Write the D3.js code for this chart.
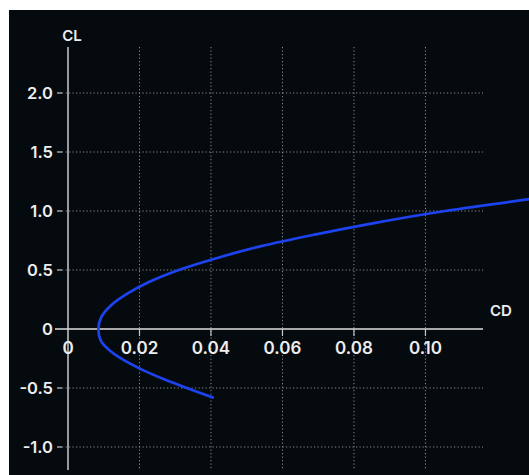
<!DOCTYPE html>
<html>
<head>
<meta charset="utf-8">
<script src="https://cdn.jsdelivr.net/npm/d3@7"></script>
<style>
  html, body { margin: 0; padding: 0; background: #ffffff; }
  svg { display: block; }
  text { font-family: Inter, "Liberation Sans", Arial, sans-serif; }
</style>
</head>
<body>
<svg id="chart" width="529" height="475"></svg>
<script>
// Drag polar: lift coefficient vs drag coefficient
const cl = [-0.58, -0.50, -0.42, -0.34, -0.26, -0.18, -0.10, 0.0, 0.10, 0.20, 0.30, 0.40, 0.50, 0.60, 0.70, 0.80, 0.90, 1.00, 1.10];
const cd = [0.0405, 0.0332, 0.0264, 0.0204, 0.0154, 0.0116, 0.0092, 0.0085, 0.0093, 0.0120, 0.0166, 0.0228, 0.0310, 0.0415, 0.0538, 0.0690, 0.0860, 0.1055, 0.1290];

const xTicks = [0, 0.02, 0.04, 0.06, 0.08, 0.10];
const xTickLabels = ["0", "0.02", "0.04", "0.06", "0.08", "0.10"];
const yTicks = [-1.0, -0.5, 0, 0.5, 1.0, 1.5, 2.0];
const yTickLabels = ["-1.0", "-0.5", "0", "0.5", "1.0", "1.5", "2.0"];

const svg = d3.select("#chart");

// dark panel
svg.append("rect")
  .attr("x", 9).attr("y", 10)
  .attr("width", 520).attr("height", 465)
  .attr("fill", "#050a0f");

const x = d3.scaleLinear().domain([0, 0.1161]).range([68, 483]);
const y = d3.scaleLinear().domain([-1.195, 2.39]).range([470, 47]);

const grid = svg.append("g")
  .attr("stroke", "#8a8f94")
  .attr("stroke-width", 1)
  .attr("stroke-dasharray", "1.2,2.3");

// vertical grid lines
grid.selectAll("line.v")
  .data(xTicks.filter(d => d !== 0))
  .join("line")
  .attr("class", "v")
  .attr("x1", d => x(d)).attr("x2", d => x(d))
  .attr("y1", y.range()[1]).attr("y2", y.range()[0]);

// horizontal grid lines
grid.selectAll("line.h")
  .data(yTicks.filter(d => d !== 0))
  .join("line")
  .attr("class", "h")
  .attr("x1", x(0) - 6).attr("x2", x.range()[1])
  .attr("y1", d => y(d)).attr("y2", d => y(d));

// y tick dashes
svg.append("g")
  .selectAll("line")
  .data(yTicks.filter(d => d !== 0))
  .join("line")
  .attr("x1", x(0) - 11).attr("x2", x(0) - 6)
  .attr("y1", d => y(d)).attr("y2", d => y(d))
  .attr("stroke", "#c8c8c8").attr("stroke-width", 1.2);

// x axis
const xAxisG = svg.append("g");
xAxisG.append("line")
  .attr("x1", x(0) - 13).attr("x2", x.range()[1])
  .attr("y1", y(0)).attr("y2", y(0))
  .attr("stroke", "#a8a8a8").attr("stroke-width", 2);
xAxisG.selectAll("line.tick")
  .data(xTicks.filter(d => d !== 0))
  .join("line")
  .attr("class", "tick")
  .attr("x1", d => x(d)).attr("x2", d => x(d))
  .attr("y1", y(0)).attr("y2", y(0) + 7)
  .attr("stroke", "#c8c8c8").attr("stroke-width", 1.2);

// y axis
svg.append("line")
  .attr("x1", x(0)).attr("x2", x(0))
  .attr("y1", y.range()[1]).attr("y2", y.range()[0])
  .attr("stroke", "#d8d8d8").attr("stroke-width", 1.4);

// x tick labels
svg.append("g")
  .selectAll("text")
  .data(xTicks)
  .join("text")
  .attr("x", d => x(d))
  .attr("y", y(0) + 25)
  .attr("text-anchor", "middle")
  .attr("fill", "#ededed")
  .attr("font-size", 17)
  .attr("font-weight", 600)
  .text((d, i) => xTickLabels[i]);

// y tick labels
svg.append("g")
  .selectAll("text")
  .data(yTicks)
  .join("text")
  .attr("x", x(0) - 15)
  .attr("y", d => y(d) + 6)
  .attr("text-anchor", "end")
  .attr("fill", "#ededed")
  .attr("font-size", 16.5)
  .attr("font-weight", 600)
  .text((d, i) => yTickLabels[i]);

// axis titles
svg.append("text")
  .attr("x", x(0) + 4).attr("y", 41)
  .attr("text-anchor", "middle")
  .attr("fill", "#ededed").attr("font-size", 15).attr("font-weight", 600)
  .text("CL");
svg.append("text")
  .attr("x", 501).attr("y", 316)
  .attr("text-anchor", "middle")
  .attr("fill", "#ededed").attr("font-size", 15).attr("font-weight", 600)
  .text("CD");

// polar curve
const line = d3.line()
  .x((d, i) => x(cd[i]))
  .y((d, i) => y(cl[i]))
  .curve(d3.curveCatmullRom);

svg.append("path")
  .datum(cl)
  .attr("d", line)
  .attr("fill", "none")
  .attr("stroke", "#1d43f0")
  .attr("stroke-width", 2.7)
  .attr("stroke-linecap", "round");
</script>
</body>
</html>
